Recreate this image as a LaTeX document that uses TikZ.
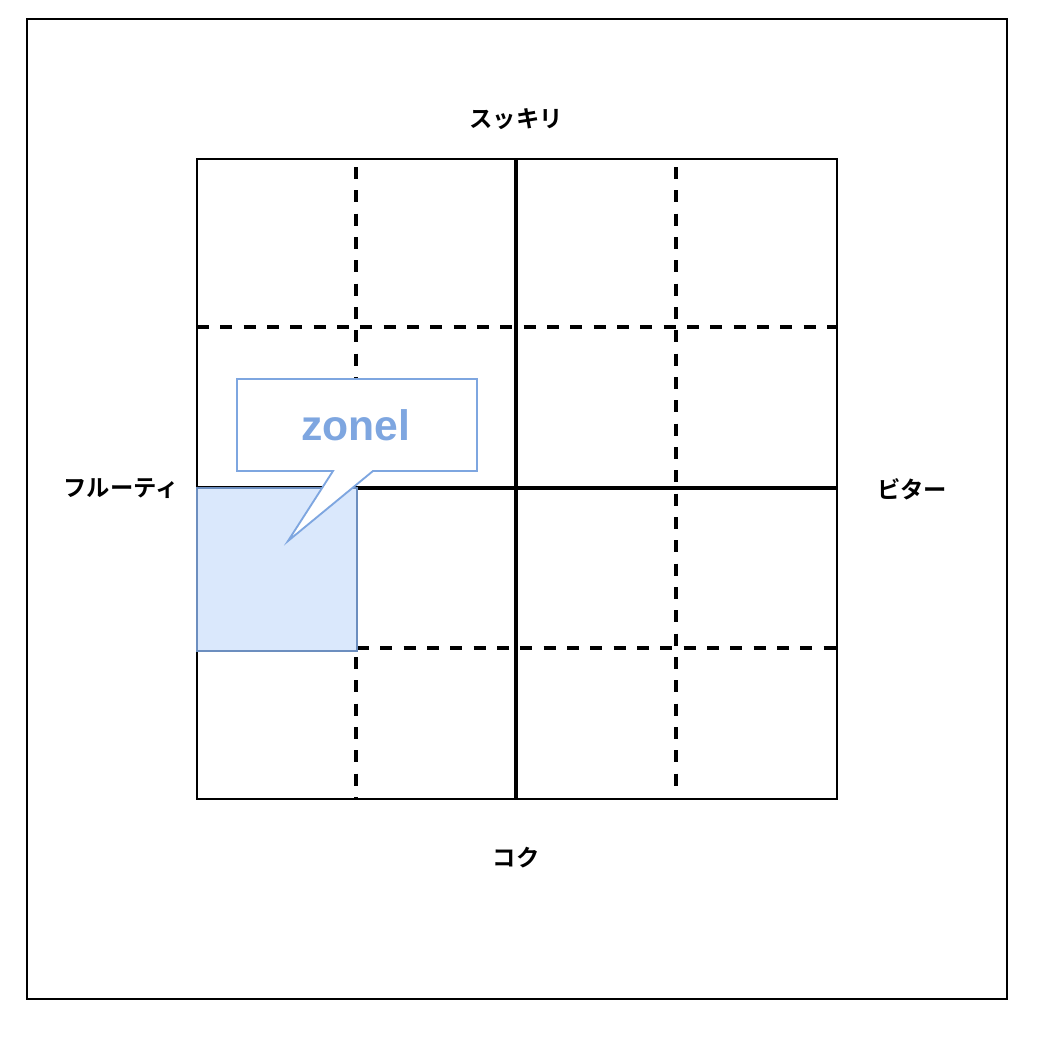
\documentclass[tikz,border=0pt]{standalone}
\usepackage{fontspec}
\newfontfamily\jpfont{Noto Sans CJK JP Bold}
\newfontfamily\helvfont{Liberation Sans}
\usetikzlibrary{calc}
\definecolor{zonefill}{HTML}{DAE8FC}
\definecolor{zonedraw}{HTML}{6C8EBF}
\definecolor{calloutblue}{HTML}{7EA6E0}
\tikzset{
 frame/.style={line width=1.6pt},
 border/.style={line width=1.6pt},
 axis/.style={line width=2.6pt},
 split/.style={line width=2.6pt,dash pattern=on 9pt off 8.5pt},
 zone/.style={fill=zonefill,draw=zonedraw,line width=1.5pt},
 callout/.style={fill=white,draw=calloutblue,line width=1.4pt,line join=miter},
 axislabel/.style={font=\jpfont\fontsize{17.5}{20}\selectfont,inner sep=0},
 zonelabel/.style={text=calloutblue,font=\helvfont\bfseries\fontsize{32}{36}\selectfont,inner sep=0}
}
\begin{document}
\begin{tikzpicture}[x=0.75pt,y=-0.75pt]
\path[use as bounding box] (0,0) rectangle (1036,1042);
\draw[frame] (27,19) rectangle (1007,999);
% grid corners and splits
\coordinate (NW) at (197,159);
\coordinate (SE) at (837,799);
\coordinate (C) at (516,488);
\draw[split] (356,167) -- (356,799);
\draw[split] (676,167) -- (676,790);
\draw[split] (197,327) -- (837,327);
\draw[split] (357,648) -- (837,648);
\draw[axis] (C |- NW) -- (C |- SE);
\draw[axis] (C -| NW) -- (C -| SE);
\draw[border] (NW) rectangle (SE);
% highlighted zone
\draw[zone] (197,488) rectangle (357,651);
\draw[callout] (237,379) -- (477,379) -- (477,471) -- (373,471) -- (288,541)
 -- (333,471) -- (237,471) -- cycle;
\node[zonelabel] (zonel) at (356,425) {zonel};
% axis labels
\node[axislabel] (top) at (516,119) {スッキリ};
\node[axislabel] (bottom) at (516,858) {コク};
\node[axislabel] (left) at (121,489) {フルーティ};
\node[axislabel] (right) at (912,489) {ビター};
\end{tikzpicture}
\end{document}
